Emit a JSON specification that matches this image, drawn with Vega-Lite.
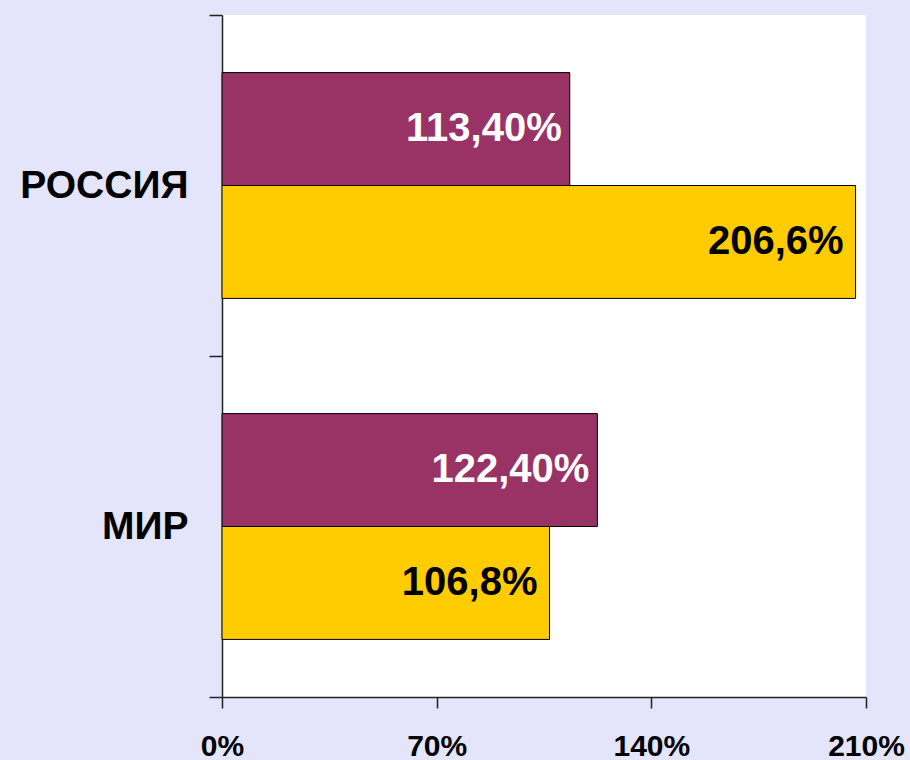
{
  "$schema": "https://vega.github.io/schema/vega-lite/v6.json",
  "width": 644,
  "height": 682,
  "autosize": {"type": "none"},
  "padding": {"left": 222, "top": 15, "right": 44, "bottom": 63},
  "background": "#E4E4FA",
  "config": {
    "view": {"fill": "white", "stroke": null},
    "font": "Liberation Sans"
  },
  "data": {
    "values": [
      {"region": "РОССИЯ", "series": "Ряд 1", "value": 113.4, "label": "113,40%"},
      {"region": "РОССИЯ", "series": "Ряд 2", "value": 206.6, "label": "206,6%"},
      {"region": "МИР", "series": "Ряд 1", "value": 122.4, "label": "122,40%"},
      {"region": "МИР", "series": "Ряд 2", "value": 106.8, "label": "106,8%"}
    ]
  },
  "encoding": {
    "y": {
      "field": "region",
      "type": "nominal",
      "sort": ["РОССИЯ", "МИР"],
      "scale": {"paddingInner": 0, "paddingOuter": 0},
      "axis": {
        "title": null,
        "bandPosition": 1,
        "tickExtra": true,
        "labelFontSize": 39,
        "labelFontWeight": "bold",
        "labelColor": "black",
        "labelPadding": 21,
        "tickSize": 13,
        "tickColor": "#222222",
        "tickWidth": 1.5,
        "domainColor": "#222222",
        "domainWidth": 1.5,
        "labelBaseline": "middle"
      }
    },
    "yOffset": {
      "field": "series",
      "type": "nominal",
      "sort": ["Ряд 1", "Ряд 2"],
      "scale": {"paddingInner": 0, "paddingOuter": 0.51}
    },
    "x": {
      "field": "value",
      "type": "quantitative",
      "scale": {"domain": [0, 210], "nice": false},
      "axis": {
        "title": null,
        "values": [0, 70, 140, 210],
        "labelExpr": "datum.value + '%'",
        "labelFontSize": 30,
        "labelFontWeight": "bold",
        "labelColor": "black",
        "labelPadding": 23,
        "labelFlush": false,
        "labelOverlap": false,
        "tickSize": 11,
        "tickColor": "#222222",
        "tickWidth": 1.5,
        "domainColor": "#222222",
        "domainWidth": 1.5,
        "grid": false
      }
    }
  },
  "layer": [
    {
      "mark": {"type": "bar", "stroke": "black", "strokeWidth": 1},
      "encoding": {
        "color": {
          "field": "series",
          "type": "nominal",
          "scale": {"domain": ["Ряд 1", "Ряд 2"], "range": ["#993366", "#FFCC00"]},
          "legend": null
        }
      }
    },
    {
      "transform": [{"filter": "datum.series === 'Ряд 1'"}],
      "mark": {"type": "text", "align": "right", "baseline": "middle", "dx": -8, "fontSize": 40, "fontWeight": "bold", "color": "white"},
      "encoding": {"text": {"field": "label"}}
    },
    {
      "transform": [{"filter": "datum.series === 'Ряд 2'"}],
      "mark": {"type": "text", "align": "right", "baseline": "middle", "dx": -12, "fontSize": 40, "fontWeight": "bold", "color": "black"},
      "encoding": {"text": {"field": "label"}}
    }
  ]
}
